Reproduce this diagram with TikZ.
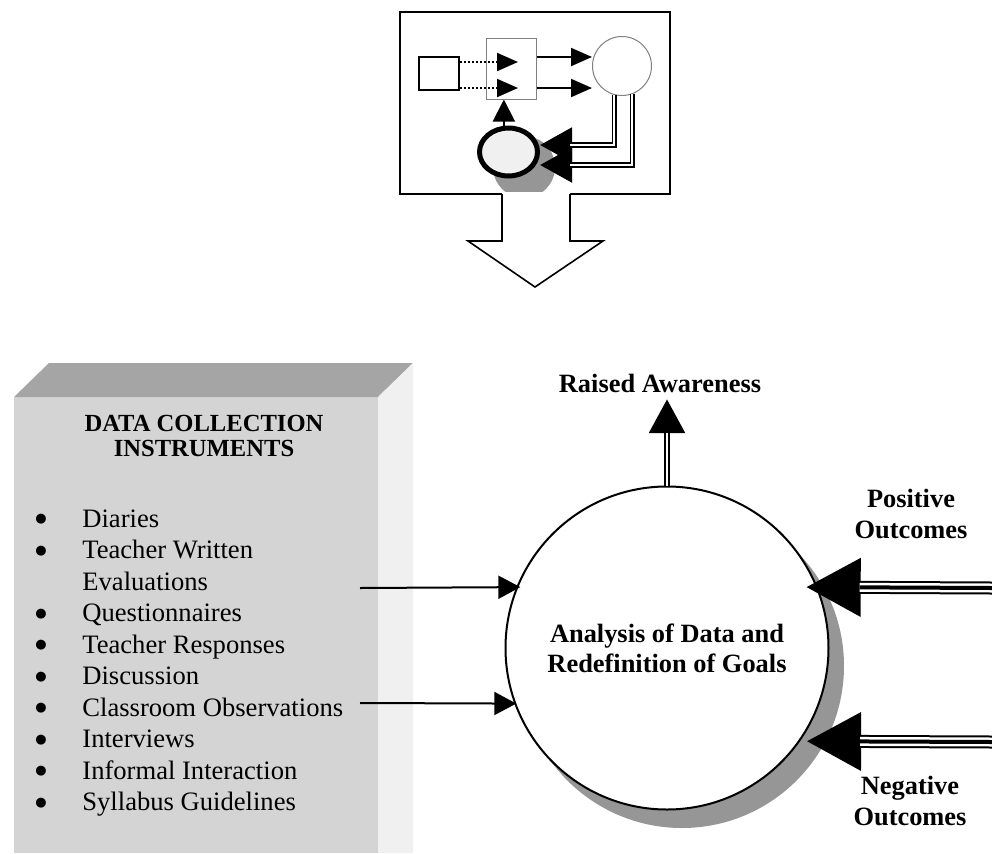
\documentclass[tikz,border=0pt]{standalone}
\usepackage{fontspec}
\setmainfont{Liberation Serif}
\newfontfamily\symbolfont{DejaVu Sans}
\usetikzlibrary{arrows.meta,shapes.geometric}

\definecolor{frontgray}{RGB}{212,212,212}
\definecolor{topgray}{RGB}{165,165,165}
\definecolor{sidegray}{RGB}{240,240,240}
\definecolor{shadegray}{RGB}{150,150,150}

\newcommand{\bigbullet}{\raisebox{2.2pt}{\symbolfont\fontsize{6.5}{6.5}\selectfont ●}}

\begin{document}
\begin{tikzpicture}[x=0.5pt, y=-0.5pt,
    main node/.style={circle, draw, line width=1pt, fill=white, minimum size=161.5pt, inner sep=0pt, align=center, font=\fontsize{13.2}{15}\selectfont\bfseries},
    bold label/.style={inner sep=0pt, align=center, font=\fontsize{13.2}{15.5}\selectfont\bfseries},
    title node/.style={inner sep=0pt, align=center, font=\fontsize{12.3}{12.5}\selectfont\bfseries},
    list node/.style={inner sep=0pt, anchor=base west, font=\fontsize{13.3}{15.75}\selectfont},
    in arrow/.style={line width=1pt, -{Triangle[length=11pt, width=11.5pt]}},
    mini arrow/.style={line width=1pt, -{Triangle[length=10.5pt, width=9pt]}}]

    \useasboundingbox (0,0) rectangle (992,853);

    % small cycle sketch
    \draw[line width=1pt] (400,12) rectangle (670,194);
    \node[draw, line width=1pt, minimum width=20pt, minimum height=16.5pt, inner sep=0pt] (sq) at (439,73.5) {};
    \node[draw=gray, line width=0.5pt, minimum width=25pt, minimum height=30.5pt, inner sep=0pt] (midbox) at (511,68.5) {};
    \node[circle, draw=gray, line width=0.5pt, minimum size=29.5pt, inner sep=0pt] (mc) at (622,66) {};
    \fill[shadegray] (524,167) circle (15.5pt);
    \node[ellipse, draw, line width=2.5pt, fill=gray!12, minimum width=29pt, minimum height=24pt, inner sep=0pt] (ell) at (508.5,152) {};

    \coordinate (dt1) at (518,62);
    \coordinate (dt2) at (518,88);
    \coordinate (st1) at (592,57);
    \coordinate (st2) at (592,88);
    \coordinate (tp1) at (540,145);
    \coordinate (tp2) at (540,165);

    \draw[mini arrow, dash pattern=on 1pt off 1pt] (sq.east |- dt1) -- (dt1);
    \draw[mini arrow, dash pattern=on 1pt off 1pt] (sq.east |- dt2) -- (dt2);
    \draw[mini arrow] (midbox.east |- st1) -- (st1);
    \draw[mini arrow] (midbox.east |- st2) -- (st2);
    \draw[line width=1pt, -{Triangle[length=11pt, width=11pt]}] (ell.100) -- (ell.100 |- midbox.south);

    \draw[line width=2.7pt, -{Triangle[length=16pt, width=17pt]}] (mc.-105) |- (tp1);
    \draw[white, line width=1.2pt, shorten >=15pt] (mc.-105) |- (tp1);
    \draw[line width=2.7pt, -{Triangle[length=16pt, width=17pt]}] (mc.-70) |- (tp2);
    \draw[white, line width=1.2pt, shorten >=15pt] (mc.-70) |- (tp2);

    % hollow arrow down
    \fill[white] (502,192) -- (502,241) -- (468,241) -- (535,287) -- (603,241) -- (570,241) -- (570,192) -- cycle;
    \draw[line width=0.8pt] (502,194) -- (502,241) -- (468,241) -- (535,287) -- (603,241) -- (570,241) -- (570,194);

    % block with the instruments
    \fill[frontgray] (14,397) rectangle (378,853);
    \fill[topgray] (14,397) -- (49,363) -- (413,363) -- (378,397) -- cycle;
    \fill[sidegray] (378,397) -- (413,363) -- (413,853) -- (378,853) -- cycle;

    \node[title node] (dctitle) at (204,436) {DATA COLLECTION\\INSTRUMENTS};
    \node[list node] (instr) at (35,527) {%
        \begin{tabular}[t]{@{}p{23.5pt}@{}l@{}}
        \bigbullet & Diaries\\
        \bigbullet & Teacher Written\\
                   & Evaluations\\
        \bigbullet & Questionnaires\\
        \bigbullet & Teacher Responses\\
        \bigbullet & Discussion\\
        \bigbullet & Classroom Observations\\
        \bigbullet & Interviews\\
        \bigbullet & Informal Interaction\\
        \bigbullet & Syllabus Guidelines
        \end{tabular}};

    % analysis circle
    \fill[shadegray] (682,666) circle (81pt);
    \node[main node] (main) at (667,648) {Analysis of Data and\\Redefinition of Goals};

    \node[bold label] (aware) at (660,383.5) {Raised Awareness};
    \node[bold label] (posout) at (911,514) {Positive\\Outcomes};
    \node[bold label] (negout) at (910,801) {Negative\\Outcomes};

    \coordinate (from1) at (360,588);
    \coordinate (from2) at (360,703);
    \coordinate (pos) at (992,588);
    \coordinate (neg) at (992,742);

    \draw[in arrow, shorten >=-2pt] (from1) -- (main.158);
    \draw[in arrow, shorten >=-1pt] (from2) -- (main.-160);

    \draw[line width=3pt, -{Triangle[length=17pt, width=17.5pt]}, shorten >=3pt] (main.north) -- (main.north |- aware.south);
    \draw[white, line width=1pt, shorten >=20pt] (main.north) -- (main.north |- aware.south);

    \draw[line width=6.5pt, -{Triangle[length=27.5pt, width=27.5pt]}, shorten >=-6pt] (pos) -- (main.22);
    \draw[white, line width=4.5pt, shorten >=21pt] (pos) -- (main.22);
    \draw[line width=2pt, shorten >=21pt] (pos) -- (main.22);

    \draw[line width=6.5pt, -{Triangle[length=27.5pt, width=27.5pt]}, shorten >=3pt] (neg) -- (main.-35.5);
    \draw[white, line width=4.5pt, shorten >=30pt] (neg) -- (main.-35.5);
    \draw[line width=2pt, shorten >=30pt] (neg) -- (main.-35.5);
\end{tikzpicture}
\end{document}
